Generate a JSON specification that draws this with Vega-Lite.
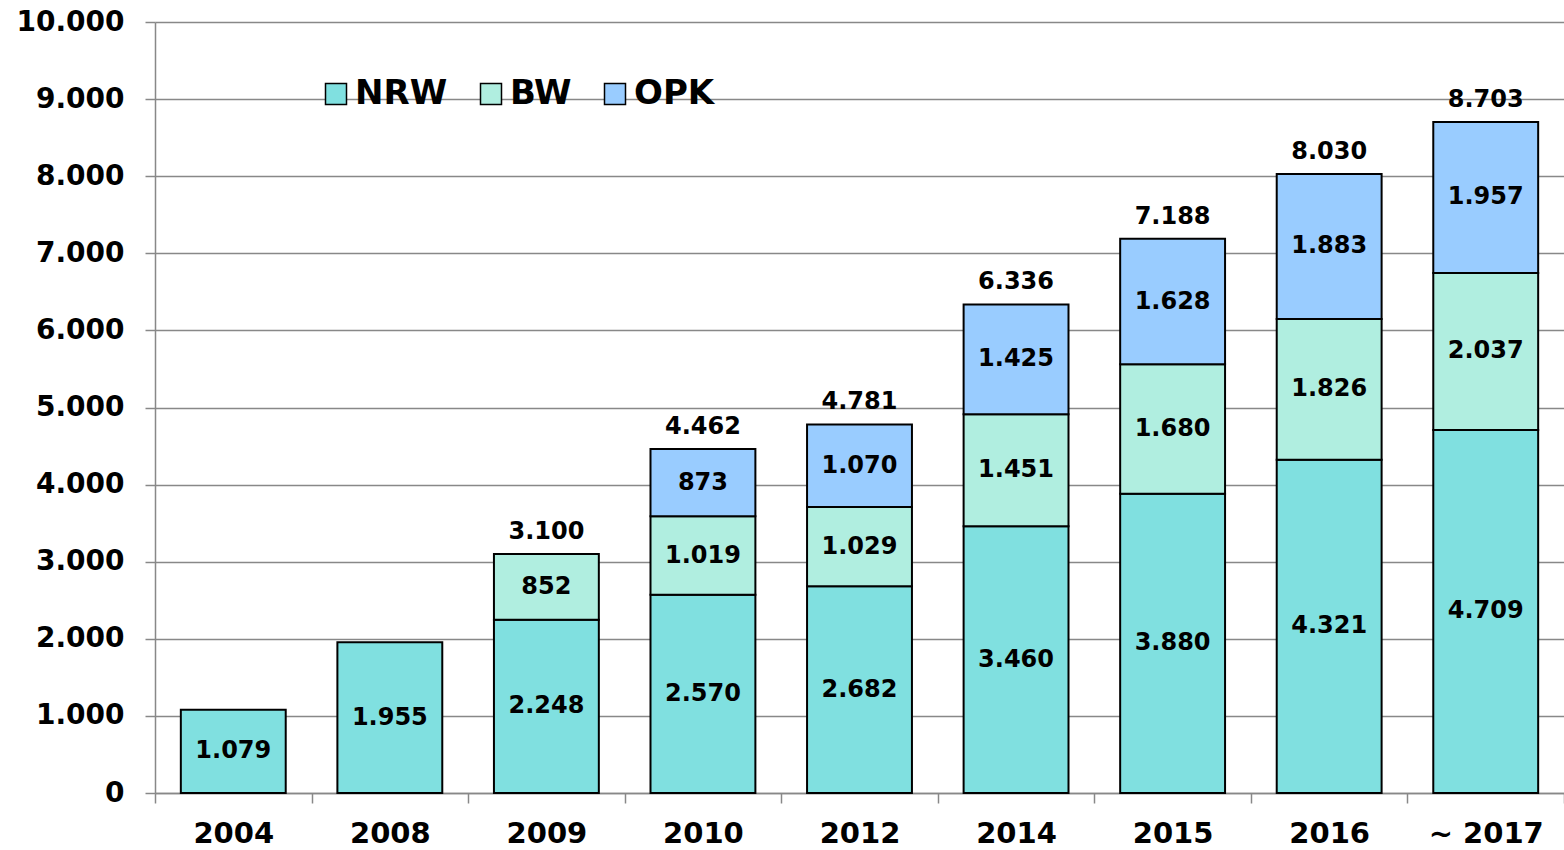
{
  "$schema": "https://vega.github.io/schema/vega-lite/v6.json",
  "width": 1409,
  "height": 771,
  "autosize": {"type": "none"},
  "padding": {"left": 155, "top": 22, "right": 0, "bottom": 57},
  "background": "white",
  "config": {
    "locale": {"number": {"decimal": ",", "thousands": ".", "grouping": [3], "currency": ["", " €"]}},
    "view": {"stroke": null},
    "font": "DejaVu Sans"
  },
  "data": {
    "values": [
      {"year": "2004", "series": "NRW", "ord": 1, "value": 1079},
      {"year": "2008", "series": "NRW", "ord": 1, "value": 1955},
      {"year": "2009", "series": "NRW", "ord": 1, "value": 2248},
      {"year": "2009", "series": "BW", "ord": 2, "value": 852},
      {"year": "2010", "series": "NRW", "ord": 1, "value": 2570},
      {"year": "2010", "series": "BW", "ord": 2, "value": 1019},
      {"year": "2010", "series": "OPK", "ord": 3, "value": 873},
      {"year": "2012", "series": "NRW", "ord": 1, "value": 2682},
      {"year": "2012", "series": "BW", "ord": 2, "value": 1029},
      {"year": "2012", "series": "OPK", "ord": 3, "value": 1070},
      {"year": "2014", "series": "NRW", "ord": 1, "value": 3460},
      {"year": "2014", "series": "BW", "ord": 2, "value": 1451},
      {"year": "2014", "series": "OPK", "ord": 3, "value": 1425},
      {"year": "2015", "series": "NRW", "ord": 1, "value": 3880},
      {"year": "2015", "series": "BW", "ord": 2, "value": 1680},
      {"year": "2015", "series": "OPK", "ord": 3, "value": 1628},
      {"year": "2016", "series": "NRW", "ord": 1, "value": 4321},
      {"year": "2016", "series": "BW", "ord": 2, "value": 1826},
      {"year": "2016", "series": "OPK", "ord": 3, "value": 1883},
      {"year": "~ 2017", "series": "NRW", "ord": 1, "value": 4709},
      {"year": "~ 2017", "series": "BW", "ord": 2, "value": 2037},
      {"year": "~ 2017", "series": "OPK", "ord": 3, "value": 1957}
    ]
  },
  "encoding": {
    "x": {
      "field": "year",
      "type": "ordinal",
      "sort": null,
      "title": null,
      "scale": {"paddingInner": 0, "paddingOuter": 0},
      "axis": {
        "labelAngle": 0,
        "labelFontSize": 29,
        "labelFontWeight": "bold",
        "labelColor": "black",
        "labelPadding": 16,
        "tickBand": "extent",
        "tickSize": 10,
        "tickColor": "#888888",
        "tickWidth": 1.5,
        "domainColor": "#888888",
        "domainWidth": 1.5,
        "grid": false
      }
    }
  },
  "layer": [
    {
      "mark": {"type": "bar", "stroke": "black", "strokeWidth": 2, "width": {"band": 0.67}},
      "encoding": {
        "y": {
          "field": "value",
          "type": "quantitative",
          "stack": "zero",
          "title": null,
          "scale": {"domain": [0, 10000]},
          "axis": {
            "values": [0, 1000, 2000, 3000, 4000, 5000, 6000, 7000, 8000, 9000, 10000],
            "format": ",d",
            "labelFontSize": 28,
            "labelFontWeight": "bold",
            "labelColor": "black",
            "labelPadding": 21,
            "tickSize": 10,
            "tickColor": "#888888",
            "tickWidth": 1.5,
            "domainColor": "#888888",
            "domainWidth": 1.5,
            "gridColor": "#888888",
            "gridWidth": 1.5,
            "gridOpacity": 1
          }
        },
        "color": {
          "field": "series",
          "type": "nominal",
          "scale": {"domain": ["NRW", "BW", "OPK"], "range": ["#80E0E0", "#B0EEE0", "#99CCFF"]},
          "legend": {
            "title": null,
            "orient": "none",
            "legendX": 164,
            "legendY": 55,
            "direction": "horizontal",
            "symbolType": "square",
            "symbolSize": 441,
            "symbolStrokeColor": "black",
            "symbolStrokeWidth": 1.5,
            "symbolOpacity": 1,
            "labelFontSize": 34,
            "labelFontWeight": "bold",
            "labelColor": "black",
            "labelOffset": 2,
            "columnPadding": 26,
            "padding": 0
          }
        },
        "order": {"field": "ord"}
      }
    },
    {
      "mark": {"type": "text", "fontSize": 24, "fontWeight": "bold", "color": "black"},
      "encoding": {
        "y": {"field": "value", "type": "quantitative", "stack": "zero", "bandPosition": 0.5},
        "text": {"field": "value", "type": "quantitative", "format": ",d"},
        "detail": {"field": "series"},
        "order": {"field": "ord"}
      }
    },
    {
      "transform": [
        {"filter": "datum.year != '2004' && datum.year != '2008'"},
        {"aggregate": [{"op": "sum", "field": "value", "as": "total"}], "groupby": ["year"]}
      ],
      "mark": {"type": "text", "fontSize": 24, "fontWeight": "bold", "color": "black", "baseline": "bottom", "dy": -10},
      "encoding": {
        "y": {"field": "total", "type": "quantitative"},
        "text": {"field": "total", "type": "quantitative", "format": ",d"}
      }
    }
  ]
}
